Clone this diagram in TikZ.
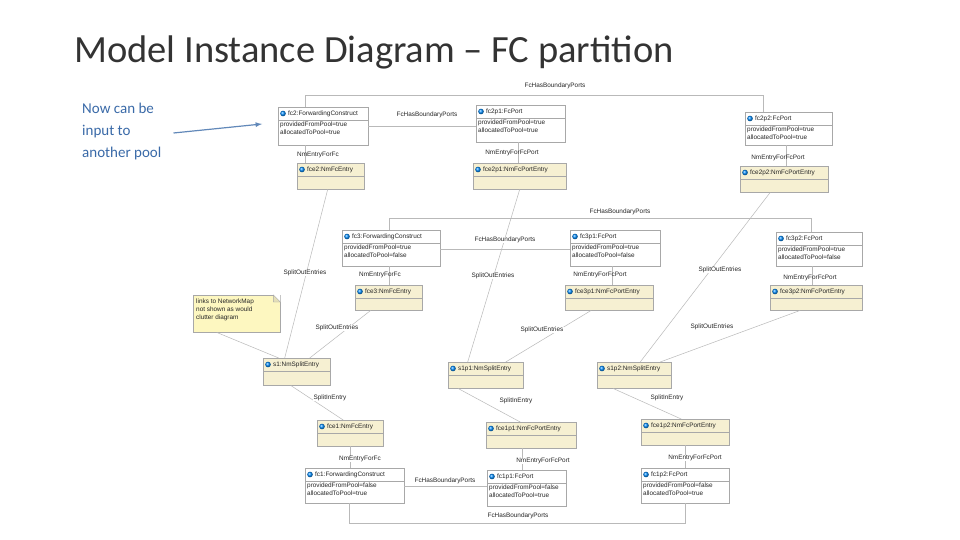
\documentclass[tikz,border=0pt]{standalone}
\usepackage{fontspec}
\setmainfont{Carlito}
\newfontfamily\dsans{Liberation Sans}
\usetikzlibrary{calc}
\definecolor{ent}{HTML}{F6F0D2}
\definecolor{note}{HTML}{FDF7C0}
\definecolor{bord}{HTML}{A8A8A8}
\definecolor{blu}{HTML}{3A6AA8}
\tikzset{
  obj/.style={draw=bord,fill=white,inner sep=0},
  entry/.style={draw=bord,fill=ent,inner sep=0},
  con/.style={draw=bord!80,line width=0.5pt},
  lab/.style={font=\dsans\fontsize{6.4}{7}\selectfont,inner sep=0.5pt,text=black!85},
  txt/.style={font=\dsans\fontsize{6.4}{7.6}\selectfont,inner sep=0,text=black!85,align=left},
}
\newcommand\umlobj[7]{%
  \node[#5,minimum width=#3pt,minimum height=#4pt,anchor=north west] (#1) at #2 {};
  \draw[draw=bord] ([yshift=-13pt]#1.north west) -- ([yshift=-13pt]#1.north east);
  \shade[ball color=blue!45!cyan] ([xshift=5pt,yshift=-6.5pt]#1.north west) circle (2.8pt);
  \node[txt,anchor=west] (#1t) at ([xshift=10pt,yshift=-6.5pt]#1.north west) {#6};
  \node[txt,anchor=north west] (#1a) at ([xshift=2pt,yshift=-15pt]#1.north west) {#7};
}
\begin{document}
\begin{tikzpicture}[x=1pt,y=-1pt]
\useasboundingbox (0,0) rectangle (960,540);
\fill[white] (0,0) rectangle (960,540);
\node[anchor=west,font=\fontsize{38.5}{40}\selectfont,text=black!80,inner sep=0] (title) at (74,52) {Model Instance Diagram – FC partition};
\node[anchor=north west,align=left,font=\fontsize{15}{22}\selectfont,text=blu,inner sep=0] (now) at (82,103) {Now can be\\input to\\another pool};
\coordinate (arrEnd) at (262,124);
\draw[blu!80,line width=1.2pt,-latex] (now.east |- 0,133) ++(12,0) coordinate (arrStart) -- (arrEnd);

% row 1
\umlobj{fc2}{(278,107)}{90}{38}{obj}{fc2:ForwardingConstruct}{providedFromPool=true\\allocatedToPool=true}
\umlobj{fc2p1}{(476,105)}{89}{37}{obj}{fc2p1:FcPort}{providedFromPool=true\\allocatedToPool=true}
\umlobj{fc2p2}{(745,112)}{87}{33}{obj}{fc2p2:FcPort}{providedFromPool=true\\allocatedToPool=true}
\umlobj{fce2}{(297,163)}{67}{26}{entry}{fce2:NmFcEntry}{}
\umlobj{fce2p1}{(473,163)}{93}{26}{entry}{fce2p1:NmFcPortEntry}{}
\umlobj{fce2p2}{(740,166)}{88}{26}{entry}{fce2p2:NmFcPortEntry}{}
% row 2
\umlobj{fc3}{(342,230)}{98}{36}{obj}{fc3:ForwardingConstruct}{providedFromPool=true\\allocatedToPool=false}
\umlobj{fc3p1}{(570,230)}{90}{36}{obj}{fc3p1:FcPort}{providedFromPool=true\\allocatedToPool=false}
\umlobj{fc3p2}{(776,232)}{86}{34}{obj}{fc3p2:FcPort}{providedFromPool=true\\allocatedToPool=false}
\umlobj{fce3}{(355,285)}{67}{25}{entry}{fce3:NmFcEntry}{}
\umlobj{fce3p1}{(565,285)}{88}{25}{entry}{fce3p1:NmFcPortEntry}{}
\umlobj{fce3p2}{(770,285)}{92}{25}{entry}{fce3p2:NmFcPortEntry}{}
% split
\umlobj{s1}{(263,358)}{67}{27}{entry}{s1:NmSplitEntry}{}
\umlobj{s1p1}{(448,362)}{75}{26}{entry}{s1p1:NmSplitEntry}{}
\umlobj{s1p2}{(597,362)}{74}{26}{entry}{s1p2:NmSplitEntry}{}
% row 3
\umlobj{fce1}{(317,420)}{66}{26}{entry}{fce1:NmFcEntry}{}
\umlobj{fce1p1}{(486,422)}{90}{26}{entry}{fce1p1:NmFcPortEntry}{}
\umlobj{fce1p2}{(641,419)}{88}{26}{entry}{fce1p2:NmFcPortEntry}{}
\umlobj{fc1}{(305,468)}{99}{35}{obj}{fc1:ForwardingConstruct}{providedFromPool=false\\allocatedToPool=true}
\umlobj{fc1p1}{(487,470)}{79}{36}{obj}{fc1p1:FcPort}{providedFromPool=false\\allocatedToPool=true}
\umlobj{fc1p2}{(641,468)}{88}{35}{obj}{fc1p2:FcPort}{providedFromPool=false\\allocatedToPool=true}

% note
\node[draw=bord,fill=note,anchor=north west,inner sep=0,minimum width=87pt,minimum height=37pt] (note) at (193,295) {};
\fill[white] ([xshift=-7pt]note.north east) -- (note.north east) -- ([yshift=-7pt]note.north east) -- cycle;
\draw[bord,fill=note!70!bord] ([xshift=-7pt]note.north east) -- ([xshift=-7pt,yshift=-7pt]note.north east) -- ([yshift=-7pt]note.north east) -- cycle;
\node[txt,anchor=north west] (notet) at ([xshift=3pt,yshift=-4pt]note.north west) {links to NetworkMap\\not shown as would\\clutter diagram};

% connectors row 1
\draw[con] ([xshift=-18pt]fc2.north) |- ++(0,-12) -| ([xshift=-25pt]fc2p2.north) coordinate (t1);
\node[lab] at (555,86) {FcHasBoundaryPorts};
\draw[con] (fc2.east) -- (fc2.east -| fc2p1.west);
\node[lab,fill=white] at (427,115) {FcHasBoundaryPorts};
\draw[con] ([xshift=-18pt]fc2.south) -- ([xshift=-18pt]fc2.south |- fce2.north);
\node[lab] at (318,155) {NmEntryForFc};
\draw[con] ([xshift=-2pt]fc2p1.south) -- ([xshift=-2pt]fc2p1.south |- fce2p1.north);
\node[lab] at (512,153) {NmEntryForFcPort};
\draw[con] ([xshift=-2pt]fc2p2.south) -- ([xshift=-2pt]fc2p2.south |- fce2p2.north);
\node[lab] at (778,158) {NmEntryForFcPort};
\draw[con] ([xshift=-3pt]fce2.south) -- ([xshift=-12pt]s1.north);
\node[lab,fill=white] at (305,273) {SplitOutEntries};
\draw[con] ([xshift=0pt]fce2p1.south) -- ([xshift=-18pt]s1p1.north);
\node[lab,fill=white] at (493,276) {SplitOutEntries};
\draw[con] ([xshift=-14pt]fce2p2.south) -- ([xshift=6pt]s1p2.north);
\node[lab,fill=white] at (720,270) {SplitOutEntries};

% row 2
\draw[con] ([xshift=-2pt]fc3.north) |- ++(0,-12) -| ([xshift=-8pt]fc3p2.north);
\node[lab] at (620,212) {FcHasBoundaryPorts};
\draw[con] ([yshift=-1pt]fc3.east) -- ([yshift=-1pt]fc3.east -| fc3p1.west);
\node[lab,fill=white] at (505,240) {FcHasBoundaryPorts};
\draw[con] ([xshift=-2pt]fc3.south) -- ([xshift=-2pt]fc3.south |- fce3.north);
\node[lab] at (380,275) {NmEntryForFc};
\draw[con] ([xshift=-3pt]fc3p1.south) -- ([xshift=-3pt]fc3p1.south |- fce3p1.north);
\node[lab] at (600,275) {NmEntryForFcPort};
\draw[con] ([xshift=-7pt]fc3p2.south) -- ([xshift=-7pt]fc3p2.south |- fce3p2.north);
\node[lab] at (810,278) {NmEntryForFcPort};
\draw[con] ([xshift=-18pt]fce3.south) -- ([xshift=13pt]s1.north);
\node[lab,fill=white] at (337,328) {SplitOutEntries};
\draw[con] ([xshift=-18pt]fce3p1.south) -- ([xshift=20pt]s1p1.north);
\node[lab,fill=white] at (542,330) {SplitOutEntries};
\draw[con] ([xshift=-16pt]fce3p2.south) -- ([xshift=26pt]s1p2.north);
\node[lab,fill=white] at (712,327) {SplitOutEntries};
\draw[con] ([xshift=-20pt]note.south) -- ([xshift=-18pt]s1.north);

% row 3
\draw[con] ([xshift=-6pt]s1.south) -- ([xshift=-7pt]fce1.north);
\node[lab,fill=white] at (330,398) {SplitInEntry};
\draw[con] ([xshift=10pt]s1p1.south west) -- ([xshift=-11pt]fce1p1.north);
\node[lab,fill=white] at (516,401) {SplitInEntry};
\draw[con] ([xshift=16pt]s1p2.south west) -- ([xshift=-4pt]fce1p2.north);
\node[lab,fill=white] at (667,398) {SplitInEntry};
\draw[con] ([xshift=0pt]fce1.south) -- (fce1.south |- fc1.north);
\node[lab,fill=white] at (360,459) {NmEntryForFc};
\draw[con] ([xshift=-9pt]fce1p1.south) -- ([xshift=-9pt]fce1p1.south |- fc1p1.north);
\node[lab,fill=white] at (543,461) {NmEntryForFcPort};
\draw[con] ([xshift=0pt]fce1p2.south) -- (fce1p2.south |- fc1p2.north);
\node[lab,fill=white] at (695,458) {NmEntryForFcPort};
\draw[con] ([yshift=-1pt]fc1.east) -- ([yshift=-1pt]fc1.east -| fc1p1.west);
\node[lab,fill=white] at (445,481) {FcHasBoundaryPorts};
\draw[con] ([xshift=-5pt]fc1.south) |- ++(0,20) -| (fc1p2.south);
\node[lab] at (518,516) {FcHasBoundaryPorts};
\end{tikzpicture}
\end{document}
